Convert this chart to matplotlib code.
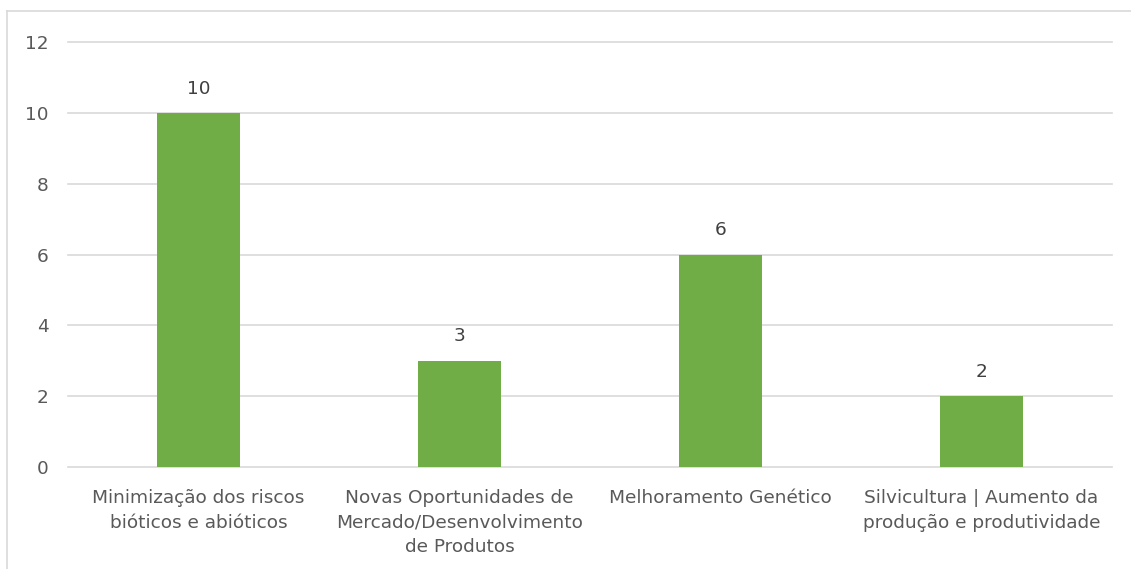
import matplotlib
matplotlib.use("Agg")
import matplotlib.pyplot as plt
from matplotlib.lines import Line2D

plt.rcParams['font.family'] = ['DejaVu Sans']

categories = ["Minimização dos riscos\nbióticos e abióticos",
              "Novas Oportunidades de\nMercado/Desenvolvimento\nde Produtos",
              "Melhoramento Genético",
              "Silvicultura | Aumento da\nprodução e produtividade"]
values = [10, 3, 6, 2]
yticks = [0, 2, 4, 6, 8, 10, 12]

W, H = 1131, 569
fig = plt.figure(figsize=(W / 100, H / 100), dpi=100)
ax = fig.add_axes([68 / W, 1 - 467 / H, (1112 - 68) / W, (467 - 42) / H])

txt = "#595959"
grid = "#D9D9D9"
fs = 13.3
x = list(range(len(categories)))
ax.bar(x, values, width=0.32, color="#70AD47", zorder=3)
for xi, v in zip(x, values):
    ax.annotate(str(v), (xi, v), xytext=(0, 11), textcoords="offset points",
                ha="center", va="bottom", fontsize=fs, color="#404040")

ax.set_xlim(-0.5, len(categories) - 0.5)
ax.set_ylim(0, 12)
ax.set_yticks(yticks)
ax.set_yticklabels([str(t) for t in yticks])
ax.set_xticks(x)
ax.set_xticklabels(categories, fontsize=fs, color=txt, linespacing=1.45)
ax.tick_params(axis="y", length=0, pad=14, labelsize=fs, labelcolor=txt)
ax.tick_params(axis="x", length=0, pad=16)
for t in yticks:
    ax.axhline(t, color=grid, linewidth=1.2, zorder=1, clip_on=False)
for s in ax.spines.values():
    s.set_visible(False)

# chart border (left and top visible)
fig.add_artist(Line2D([7 / W, 7 / W], [0, 1 - 11 / H], color=grid, linewidth=1.2, transform=fig.transFigure))
fig.add_artist(Line2D([7 / W, 1.01], [1 - 11 / H, 1 - 11 / H], color=grid, linewidth=1.2, transform=fig.transFigure))

fig.savefig("out.png", dpi=100, facecolor="white")
